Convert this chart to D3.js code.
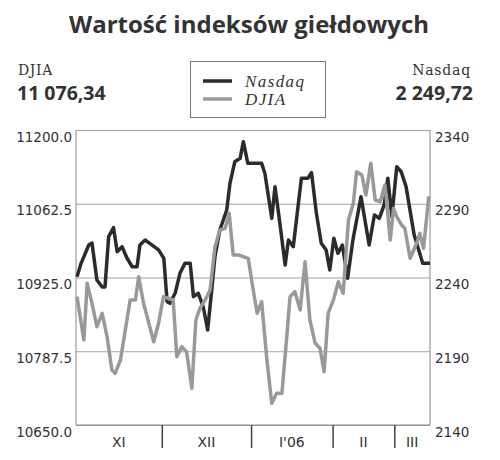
<!DOCTYPE html>
<html>
<head>
<meta charset="utf-8">
<script src="https://cdn.jsdelivr.net/npm/d3@7"></script>
<style>
  html, body { margin: 0; padding: 0; background: #fff; }
  svg { display: block; }
</style>
</head>
<body>
<svg id="chart" width="500" height="460"></svg>
<script>
// ---- DATA ----
const title = "Wartość indeksów giełdowych";
const leftName = "DJIA", leftLast = "11 076,34";
const rightName = "Nasdaq", rightLast = "2 249,72";

const djiaTicks = [10650, 10787.5, 10925, 11062.5, 11200];
const nasdaqTicks = [2140, 2190, 2240, 2290, 2340];

const monthLabels = ["XI", "XII", "I'06", "II", "III"];
const monthBounds = [20.9, 42.9, 63.0, 78.2];   // session positions where months change
const sessionRange = [-0.25, 87];

const nasdaqSession = [0,1.0,2.9,3.7,4.9,6.2,6.9,7.8,9.0,9.9,11.1,12.3,13.6,14.8,15.5,16.8,18.5,20.1,21.4,22.2,22.9,24.2,25.4,26.6,27.9,28.7,29.9,31.1,32.2,33.2,34.0,35.2,36.9,37.7,38.9,40.2,41.0,42.1,45.5,46.3,48.0,48.8,50.0,51.3,52.1,53.3,55.3,56.9,57.8,59.0,60.2,61.4,62.3,63.3,64.3,65.4,66.7,68.0,70.0,72.0,73.3,74.5,75.7,76.6,77.6,78.8,79.9,81.1,83.1,85.2,87.0];
const nasdaqValue = [2240.5,2249.6,2262.0,2263.4,2238.3,2233.6,2233.6,2267.7,2273.8,2257.5,2260.9,2253.2,2247.3,2247.3,2262.0,2265.4,2262.0,2258.7,2253.0,2223.6,2222.5,2229.5,2243.1,2249.6,2249.6,2227.0,2229.3,2220.2,2204.4,2231.5,2254.1,2272.2,2285.8,2303.9,2318.5,2320.8,2332.1,2317.4,2317.4,2310.7,2280.1,2301.6,2276.8,2248.5,2265.4,2260.9,2307.3,2307.3,2311.1,2283.5,2263.2,2258.7,2245.1,2266.6,2256.4,2262.0,2239.5,2265.4,2294.8,2262.0,2282.4,2280.1,2289.2,2307.3,2281.2,2315.1,2311.7,2301.6,2268.8,2249.6,2249.72];

const djiaSession = [0.0,1.7,2.5,3.7,4.9,6.2,7.4,8.6,9.4,10.7,11.9,13.1,14.4,15.2,16.4,17.7,18.9,20.1,21.3,23.7,24.6,25.8,27.0,28.3,29.3,30.3,31.6,32.8,34.0,35.2,36.5,37.5,38.5,39.8,42.2,43.5,44.4,45.5,46.8,48.0,49.2,50.5,51.7,52.5,53.7,55.0,56.2,57.4,58.7,59.9,60.9,61.9,63.2,64.4,65.6,66.9,68.1,68.9,70.2,71.2,72.4,73.5,74.7,75.9,77.2,78.0,78.8,80.0,80.8,82.1,83.7,84.5,85.4,86.7];
const djiaValue = [10889.2,10808.5,10914.2,10876.9,10833.3,10858.3,10814.6,10752.5,10746.4,10771.2,10827.1,10883.1,10883.1,10926.5,10876.9,10839.6,10805.3,10839.6,10889.2,10883.1,10777.3,10796.0,10786.7,10718.4,10845.8,10867.6,10883.1,10901.7,10982.4,11013.6,11016.7,11044.7,10967.0,10967.0,10960.8,10898.5,10858.3,10879.9,10771.2,10690.5,10709.1,10709.1,10814.6,10889.2,10898.5,10864.4,10954.5,10845.8,10802.3,10793.0,10749.4,10858.3,10883.1,10917.2,10895.5,11032.2,11063.3,11122.3,11116.1,11078.8,11137.9,11069.5,11066.3,11097.5,10994.9,11054.0,11038.4,11022.9,11016.7,10960.8,10988.8,11007.4,10979.4,11076.34];

// ---- LAYOUT ----
const L = 76, R = 430, T = 130, B = 425;
const svg = d3.select("#chart");

const x = d3.scaleLinear().domain(sessionRange).range([L, R]);
const yL = d3.scaleLinear().domain([djiaTicks[0], djiaTicks[djiaTicks.length-1]]).range([B, T]);
const yR = d3.scaleLinear().domain([nasdaqTicks[0], nasdaqTicks[nasdaqTicks.length-1]]).range([B, T]);

// Title
svg.append("text")
  .attr("x", 249).attr("y", 33)
  .attr("text-anchor", "middle")
  .attr("font-family", "'Open Sans', sans-serif")
  .attr("font-weight", 700).attr("font-size", 24)
  .attr("fill", "#333")
  .text(title);

// Header labels
svg.append("text").attr("x", 18).attr("y", 75)
  .attr("font-family", "'DejaVu Serif', serif").attr("font-size", 14)
  .attr("letter-spacing", 0.6).attr("fill", "#333").text(leftName);
svg.append("text").attr("x", 17).attr("y", 100)
  .attr("font-family", "'Open Sans', sans-serif").attr("font-weight", 700)
  .attr("font-size", 19.5).attr("fill", "#333").text(leftLast);
svg.append("text").attr("x", 471).attr("y", 75).attr("text-anchor", "end")
  .attr("font-family", "'DejaVu Serif', serif").attr("font-size", 14)
  .attr("letter-spacing", 0.8).attr("fill", "#333").text(rightName);
svg.append("text").attr("x", 473).attr("y", 100).attr("text-anchor", "end")
  .attr("font-family", "'Open Sans', sans-serif").attr("font-weight", 700)
  .attr("font-size", 19.5).attr("fill", "#333").text(rightLast);

// Legend
const lg = svg.append("g");
lg.append("rect").attr("x", 190.5).attr("y", 61.5).attr("width", 135).attr("height", 56)
  .attr("fill", "#fff").attr("stroke", "#777").attr("stroke-width", 1);
const legendItems = [{name: "Nasdaq", color: "#2b2b2b", y: 81}, {name: "DJIA", color: "#999", y: 99}];
legendItems.forEach(d => {
  lg.append("line").attr("x1", 203).attr("x2", 232).attr("y1", d.y).attr("y2", d.y)
    .attr("stroke", d.color).attr("stroke-width", 3.5);
  lg.append("text").attr("x", 245).attr("y", d.y + 5.5)
    .attr("font-family", "'Liberation Serif', serif").attr("font-style", "italic")
    .attr("font-size", 17).attr("letter-spacing", 1.4).attr("fill", "#333").text(d.name);
});

// Gridlines
const grid = svg.append("g").attr("transform", `translate(${L},0)`)
  .call(d3.axisLeft(yL).tickValues(djiaTicks).tickSize(-(R - L)).tickFormat(""));
grid.select(".domain").remove();
grid.selectAll(".tick line").attr("stroke", "#a3a3a3").attr("stroke-width", 1);

// Frame (left, right, bottom)
const frame = svg.append("g").attr("stroke", "#888").attr("stroke-width", 1).attr("fill", "none");
frame.append("line").attr("x1", L).attr("x2", L).attr("y1", T).attr("y2", B);
frame.append("line").attr("x1", R).attr("x2", R).attr("y1", T).attr("y2", B);
frame.append("line").attr("x1", L).attr("x2", R).attr("y1", B).attr("y2", B);

// Left axis labels
const axL = svg.append("g").attr("transform", `translate(${L},0)`)
  .call(d3.axisLeft(yL).tickValues(djiaTicks).tickSize(0).tickPadding(4).tickFormat(d3.format(".1f")));
axL.select(".domain").remove();
axL.selectAll("text").attr("dy", "11").attr("font-family", "'DejaVu Sans', sans-serif")
  .attr("font-size", 13.5).attr("fill", "#333");

// Right axis labels
const axR = svg.append("g").attr("transform", `translate(${R},0)`)
  .call(d3.axisRight(yR).tickValues(nasdaqTicks).tickSize(0).tickPadding(5).tickFormat(d3.format("d")));
axR.select(".domain").remove();
axR.selectAll("text").attr("dy", "11").attr("font-family", "'DejaVu Sans', sans-serif")
  .attr("font-size", 13.5).attr("fill", "#333");

// Bottom axis: month separators
const axB = svg.append("g").attr("transform", `translate(0,${B})`)
  .call(d3.axisBottom(x).tickValues(monthBounds).tickSize(23).tickFormat(""));
axB.select(".domain").remove();
axB.selectAll(".tick line").attr("stroke", "#444").attr("stroke-width", 1.5);

// Month labels centered between separators
const edges = [sessionRange[0], ...monthBounds, sessionRange[1]];
svg.append("g").selectAll("text").data(monthLabels).join("text")
  .attr("x", (d, i) => (x(edges[i]) + x(edges[i + 1])) / 2)
  .attr("y", 447)
  .attr("text-anchor", "middle")
  .attr("font-family", "'DejaVu Sans', sans-serif").attr("font-size", 14)
  .attr("fill", "#333").text(d => d);

// Lines
const nasdaqData = nasdaqSession.map((s, i) => [s, nasdaqValue[i]]);
const djiaData = djiaSession.map((s, i) => [s, djiaValue[i]]);

svg.append("path").datum(nasdaqData)
  .attr("fill", "none").attr("stroke", "#2b2b2b").attr("stroke-width", 3.5)
  .attr("stroke-linejoin", "round")
  .attr("d", d3.line().x(d => x(d[0])).y(d => yR(d[1])));

svg.append("path").datum(djiaData)
  .attr("fill", "none").attr("stroke", "#999").attr("stroke-width", 3.5)
  .attr("stroke-linejoin", "round")
  .attr("d", d3.line().x(d => x(d[0])).y(d => yL(d[1])));
</script>
</body>
</html>
